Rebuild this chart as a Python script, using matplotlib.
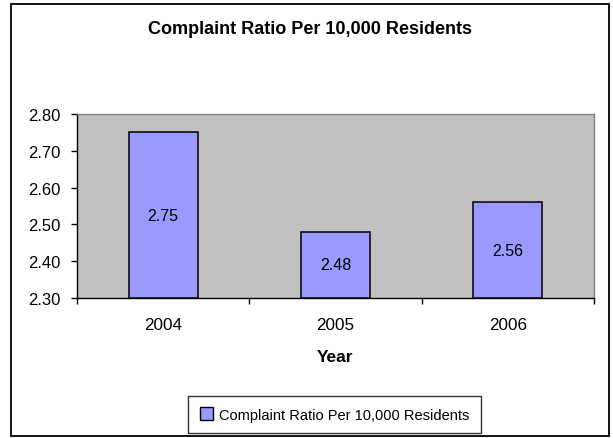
import matplotlib
matplotlib.use("Agg")
import matplotlib.pyplot as plt
from matplotlib.patches import Rectangle, Patch
import numpy as np

# Data
years = ["2004", "2005", "2006"]
ratios = [2.75, 2.48, 2.56]
y_ticks = [2.30, 2.40, 2.50, 2.60, 2.70, 2.80]
title = "Complaint Ratio Per 10,000 Residents"
series_name = "Complaint Ratio Per 10,000 Residents"

plt.rcParams["font.family"] = ["Liberation Sans", "DejaVu Sans"]

W, H = 613, 439
fig = plt.figure(figsize=(W / 100, H / 100), dpi=100)
fig.patch.set_facecolor("white")

# outer chart frame
fig.patches.append(Rectangle((11 / W, 1 - 437 / H), (609 - 11) / W, (437 - 5) / H,
                             transform=fig.transFigure, fill=False,
                             edgecolor="black", linewidth=1.3))

# plot area
left, right, top, bottom = 77, 594, 115, 299
ax = fig.add_axes([left / W, 1 - bottom / H, (right - left) / W, (bottom - top) / H])
ax.set_facecolor("#C0C0C0")

y_min, y_max = y_ticks[0], y_ticks[-1]
x = np.arange(len(years))
heights = [v - y_min for v in ratios]
bars = ax.bar(x, heights, bottom=y_min, width=0.4, color="#9999FF",
              edgecolor="black", linewidth=1.1, zorder=3)
ax.bar_label(bars, labels=[f"{v:.2f}" for v in ratios], label_type="center",
             fontsize=11.5, color="black", zorder=4)

ax.set_xlim(-0.5, len(years) - 0.5)
ax.set_ylim(y_min, y_max)

ax.set_yticks(y_ticks)
ax.set_yticklabels([f"{t:.2f}" for t in y_ticks], fontsize=12)
ax.tick_params(axis="y", direction="out", length=4, width=1, pad=8, colors="black")

# category boundary ticks on x; labels centred on categories
ax.set_xticks(np.arange(-0.5, len(years), 1.0))
ax.set_xticklabels([])
ax.tick_params(axis="x", which="major", direction="out", length=4, width=1)
ax.set_xticks(x, minor=True)
ax.set_xticklabels(years, minor=True, fontsize=12.3)
ax.tick_params(axis="x", which="minor", length=0, pad=14)

ax.set_xlabel("Year", fontsize=12.5, fontweight="bold", labelpad=12)

for s in ("left", "bottom"):
    ax.spines[s].set_color("black")
    ax.spines[s].set_linewidth(1.0)
for s in ("top", "right"):
    ax.spines[s].set_color("#808080")
    ax.spines[s].set_linewidth(1.0)

fig.text(310 / W, 1 - 30 / H, title, ha="center", va="center",
         fontsize=13, fontweight="bold")

handle = Patch(facecolor="#9999FF", edgecolor="black", linewidth=1.0)
leg = fig.legend([handle], [series_name], loc="center",
                 bbox_to_anchor=(334.5 / W, 1 - 415.5 / H),
                 fontsize=10.5, frameon=True, fancybox=False, shadow=False,
                 handlelength=0.9, handleheight=0.9, handletextpad=0.4,
                 borderpad=0.8, borderaxespad=0)
leg.get_frame().set_edgecolor("black")
leg.get_frame().set_linewidth(1.0)

fig.savefig("out.png", dpi=100, facecolor="white")
